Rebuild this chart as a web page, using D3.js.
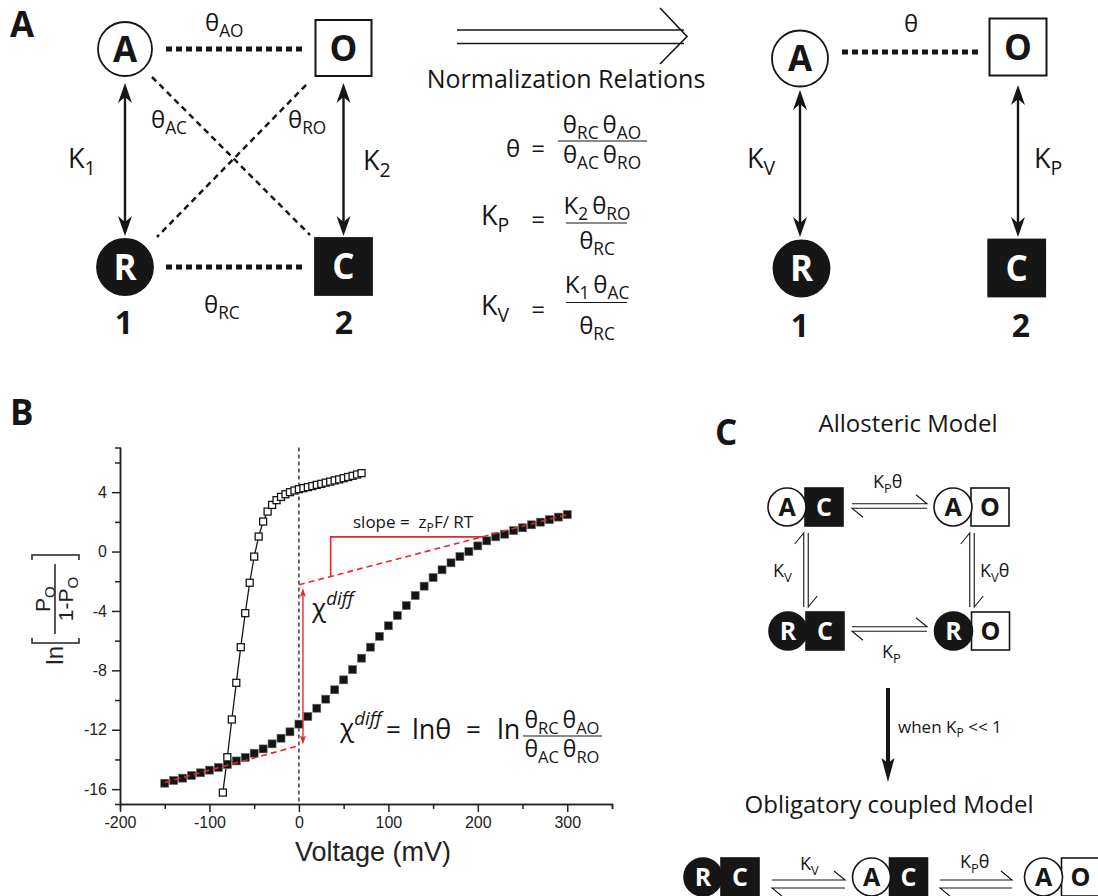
<!DOCTYPE html>
<html><head><meta charset="utf-8">
<script src="https://cdn.jsdelivr.net/npm/d3@7"></script>
<style>body{margin:0;background:#fff} svg{display:block} text{white-space:pre}</style>
</head><body>
<svg id="fig" width="1098" height="896"></svg>
<script>
// ---- data ----
const closedV = [-150,-140,-130,-120,-110,-100,-90,-80,-70,-60,-50,-40,-30,-20,-10,0,10,20,30,40,50,60,70,80,90,
  100,110,120,130,140,150,160,170,180,190,200,210,220,230,240,250,260,270,280,290,300];
const closedLnK = [-15.6,-15.42,-15.26,-15.08,-14.9,-14.72,-14.54,-14.34,-14.1,-13.87,-13.58,-13.29,-12.95,-12.57,-12.14,-11.62,
  -11.11,-10.55,-9.94,-9.31,-8.64,-7.95,-7.18,-6.44,-5.71,-5.0,-4.31,-3.64,-2.96,-2.33,-1.75,-1.23,-0.76,-0.34,0.0,0.38,
  0.72,0.99,1.17,1.41,1.6,1.8,1.98,2.15,2.32,2.49];
const openV = [-85,-80,-75,-70,-65,-60,-55,-50,-45,-40,-35,-30,-25,-20,-15,-10,-5,0,5,10,15,20,25,30,35,40,45,50,55,60,65,70];
const openLnK = [-16.23,-13.85,-11.31,-8.84,-6.44,-4.15,-2.1,-0.34,1.01,2.02,2.69,3.14,3.46,3.68,3.86,4.0,4.11,
  4.2,4.27,4.34,4.41,4.49,4.56,4.64,4.71,4.79,4.86,4.94,5.02,5.1,5.19,5.28];
const xTicks = [-200,-100,0,100,200,300];
const xMinor = [-150,-50,50,150,250,350];
const yTicks = [-16,-12,-8,-4,0,4];
const yMinor = [-14,-10,-6,-2,2,6];
// limiting slopes and annotations, in data units
const limitLow = [[-150,-15.55],[0,-13.07]];
const limitHigh = [[0,-2.24],[303,2.54]];
const slopeGuide = [[35.5,-1.66],[35.5,0.99],[206,0.99]];
const chiArrow = [[4.5,-2.45],[4.5,-13.0]];

const SANS = "'Open Sans', 'Noto Sans', sans-serif";
const ARIAL = "'Liberation Sans', Arial, sans-serif";
const INK = "#161616", RED = "#e8262b";
const TH = "\u2009θ"; // thin-spaced theta for products

const svg = d3.select("#fig").attr("font-family", SANS).attr("fill", INK);
svg.append("rect").attr("width", 1098).attr("height", 896).attr("fill", "#fff");

// text with sub/superscripts: parts = [[str, kind]]
function rich(g, x, y, parts, size, anchor) {
  const t = g.append("text").attr("x", x).attr("y", y).attr("font-size", size)
    .attr("text-anchor", anchor || "start");
  let shift = 0;
  parts.forEach(p => {
    const k = p[1];
    const target = k === "sub" ? size * 0.25 : k ? -size * 0.45 : 0;
    const ts = t.append("tspan").text(p[0]).attr("dy", target - shift);
    if (k) ts.attr("font-size", size * 0.72);
    if (k === "supi") ts.attr("font-style", "italic");
    shift = target;
  });
  return t;
}

function node(g, cx, cy, shape, r, filled, label, fs, sw) {
  const el = shape === "c"
    ? g.append("circle").attr("cx", cx).attr("cy", cy).attr("r", r)
    : g.append("rect").attr("x", cx - r).attr("y", cy - r).attr("width", 2 * r).attr("height", 2 * r);
  el.attr("fill", filled ? INK : "#fff").attr("stroke", INK).attr("stroke-width", sw || 1.8);
  g.append("text").attr("x", cx).attr("y", cy + fs * 0.36).attr("text-anchor", "middle")
    .attr("font-weight", 700).attr("font-size", fs).attr("fill", filled ? "#fff" : INK).text(label);
}

function head(g, tx, ty, dx, dy, len, hw, notch, color) {
  const px = -dy, py = dx, bx = tx - dx * len, by = ty - dy * len;
  const nx = tx - dx * notch, ny = ty - dy * notch;
  g.append("path").attr("fill", color || INK)
    .attr("d", `M${tx},${ty}L${bx + px * hw},${by + py * hw}L${nx},${ny}L${bx - px * hw},${by - py * hw}Z`);
}

function dblArrow(g, x, y1, y2) {
  g.append("line").attr("x1", x).attr("x2", x).attr("y1", y1 + 10).attr("y2", y2 - 10)
    .attr("stroke", INK).attr("stroke-width", 2.4);
  head(g, x, y1, 0, -1, 20, 7, 14);
  head(g, x, y2, 0, 1, 20, 7, 14);
}

function bond(g, x1, y1, x2, y2, w, dash) {
  g.append("line").attr("x1", x1).attr("y1", y1).attr("x2", x2).attr("y2", y2)
    .attr("stroke", INK).attr("stroke-width", w).attr("stroke-dasharray", dash);
}

function harpoonH(g, x1, x2, yc, gap) {
  const yt = yc - gap / 2, yb = yc + gap / 2;
  g.append("path").attr("d", `M${x1},${yt}H${x2}l-11,-9`).attr("fill", "none").attr("stroke", INK).attr("stroke-width", 1.1);
  g.append("path").attr("d", `M${x2},${yb}H${x1}l11,9`).attr("fill", "none").attr("stroke", INK).attr("stroke-width", 1.1);
}

function harpoonV(g, xc, y1, y2, gap) {
  const xl = xc - gap / 2, xr = xc + gap / 2;
  g.append("path").attr("d", `M${xl},${y2}V${y1}l-9,11`).attr("fill", "none").attr("stroke", INK).attr("stroke-width", 1.1);
  g.append("path").attr("d", `M${xr},${y1}V${y2}l9,-11`).attr("fill", "none").attr("stroke", INK).attr("stroke-width", 1.1);
}

function pair(g, cx, cy, cFill, cLab, sFill, sLab) {
  const r = 19;
  g.append("rect").attr("x", cx + r - 1).attr("y", cy - r).attr("width", 2 * r).attr("height", 2 * r)
    .attr("fill", sFill ? INK : "#fff").attr("stroke", INK).attr("stroke-width", 1.6);
  g.append("circle").attr("cx", cx).attr("cy", cy).attr("r", r)
    .attr("fill", cFill ? INK : "#fff").attr("stroke", INK).attr("stroke-width", 1.6);
  g.append("text").attr("x", cx).attr("y", cy + 9).attr("text-anchor", "middle").attr("font-weight", 700)
    .attr("font-size", 25).attr("fill", cFill ? "#fff" : INK).text(cLab);
  g.append("text").attr("x", cx + 2 * r - 1).attr("y", cy + 9).attr("text-anchor", "middle").attr("font-weight", 700)
    .attr("font-size", 25).attr("fill", sFill ? "#fff" : INK).text(sLab);
}

function panelLabel(x, y, t) {
  svg.append("text").attr("x", x).attr("y", y).attr("font-size", 35).attr("font-weight", 700).text(t);
}

function plain(g, x, y, t, size, anchor) {
  return g.append("text").attr("x", x).attr("y", y).attr("font-size", size)
    .attr("text-anchor", anchor || "start").text(t);
}

// ================= Panel A =================
panelLabel(10, 37, "A");
const pa = svg.append("g");
bond(pa, 166, 49, 303, 49, 5, "6,4");
bond(pa, 166, 267, 303, 267, 5, "6,4");
bond(pa, 152, 77, 310, 235, 2.5, "6,4.5");
bond(pa, 306, 85, 157, 237, 2.5, "6,4.5");
dblArrow(pa, 125, 83, 236);
dblArrow(pa, 343.5, 83, 236);
node(pa, 125, 49, "c", 27, false, "A", 35);
node(pa, 343.5, 48, "s", 28, false, "O", 35, 2);
node(pa, 125, 267, "c", 28, true, "R", 35);
node(pa, 343.5, 266.5, "s", 28.5, true, "C", 35);
rich(pa, 205, 31, [["θ"], ["AO", "sub"]], 24);
rich(pa, 151, 128, [["θ"], ["AC", "sub"]], 24);
rich(pa, 288, 128, [["θ"], ["RO", "sub"]], 24);
rich(pa, 68, 168, [["K"], ["1", "sub"]], 27);
rich(pa, 363, 170, [["K"], ["2", "sub"]], 27);
rich(pa, 204, 313, [["θ"], ["RC", "sub"]], 24);
plain(pa, 124, 334, "1", 32, "middle").attr("font-weight", 700);
plain(pa, 344, 334, "2", 32, "middle").attr("font-weight", 700);

// normalization arrow and relations
const pm = svg.append("g");
pm.append("path").attr("d", "M457,30H684M457,43.5H684M660,8L687,36.5L660,64")
  .attr("fill", "none").attr("stroke", INK).attr("stroke-width", 1.6);
plain(pm, 566, 88, "Normalization Relations", 25, "middle");
plain(pm, 506, 157, "θ", 24);
[157, 228, 318].forEach(v => plain(pm, 538, v, "=", 24, "middle"));
pm.append("path").attr("d", "M558,141H647M566,223H627M566,302.5H627").attr("stroke", INK).attr("stroke-width", 1.2);
rich(pm, 602, 133, [["θ"], ["RC", "sub"], [TH], ["AO", "sub"]], 24, "middle");
rich(pm, 602, 163, [["θ"], ["AC", "sub"], [TH], ["RO", "sub"]], 24, "middle");
rich(pm, 481, 225, [["K"], ["P", "sub"]], 27);
rich(pm, 597, 214, [["K"], ["2", "sub"], [TH], ["RO", "sub"]], 24, "middle");
rich(pm, 597, 249, [["θ"], ["RC", "sub"]], 24, "middle");
rich(pm, 481, 315, [["K"], ["V", "sub"]], 27);
rich(pm, 597, 293, [["K"], ["1", "sub"], [TH], ["AC", "sub"]], 24, "middle");
rich(pm, 597, 334, [["θ"], ["RC", "sub"]], 24, "middle");

// normalized scheme
const pr = svg.append("g");
bond(pr, 842, 52, 978, 52, 5, "6,4");
dblArrow(pr, 800, 90, 237);
dblArrow(pr, 1018, 85, 237);
node(pr, 800, 58.5, "c", 28, false, "A", 35);
node(pr, 1018, 47, "s", 28.5, false, "O", 35, 2);
node(pr, 801.5, 268.5, "c", 28, true, "R", 35);
node(pr, 1016.7, 268, "s", 28.5, true, "C", 35);
plain(pr, 904, 32, "θ", 24);
rich(pr, 747, 168, [["K"], ["V", "sub"]], 27);
rich(pr, 1034, 168, [["K"], ["P", "sub"]], 27);
plain(pr, 800, 337, "1", 32, "middle").attr("font-weight", 700);
plain(pr, 1021, 337, "2", 32, "middle").attr("font-weight", 700);

// ================= Panel B =================
panelLabel(10, 425, "B");
const x = d3.scaleLinear().domain([-200, 350]).range([120, 612]);
const y = d3.scaleLinear().domain([-17, 7]).range([804, 447.6]);
const pb = svg.append("g");

pb.append("line").attr("x1", x(0)).attr("x2", x(0)).attr("y1", y(7)).attr("y2", y(-17))
  .attr("stroke", "#222").attr("stroke-width", 1.3).attr("stroke-dasharray", "4,3");

function styleAxis(g) {
  g.attr("font-family", ARIAL).attr("font-size", 16);
  g.selectAll("path,line").attr("stroke", "#222").attr("stroke-width", 1.5);
  g.selectAll("text").attr("fill", "#222");
}
pb.append("g").attr("transform", `translate(0,${y(-17)})`)
  .call(d3.axisBottom(x).tickValues(xMinor).tickSize(5).tickFormat("")).call(styleAxis);
pb.append("g").attr("transform", `translate(0,${y(-17)})`)
  .call(d3.axisBottom(x).tickValues(xTicks).tickSize(8).tickSizeOuter(0).tickPadding(5).tickFormat(d => String(d)))
  .call(styleAxis);
pb.append("g").attr("transform", `translate(${x(-200)},0)`)
  .call(d3.axisLeft(y).tickValues(yMinor).tickSize(5).tickFormat("")).call(styleAxis);
pb.append("g").attr("transform", `translate(${x(-200)},0)`)
  .call(d3.axisLeft(y).tickValues(yTicks).tickSize(8).tickSizeOuter(0).tickPadding(5).tickFormat(d => String(d)))
  .call(styleAxis);

plain(pb, 373, 861, "Voltage (mV)", 27, "middle").attr("font-family", ARIAL).attr("fill", "#222");

// y label ln[Po/(1-Po)]
const yl = pb.append("g").attr("transform", "translate(55,612) rotate(-90)")
  .attr("font-family", ARIAL).attr("fill", "#222");
plain(yl, -34, 8, "ln", 24, "end");
yl.append("path").attr("d", "M-26,-23H-31V24H-26M52,-23H57V24H52M-22,0H48")
  .attr("fill", "none").attr("stroke", "#222").attr("stroke-width", 1.5);
rich(yl, 13, -5, [["P"], ["O", "sub"]], 21, "middle");
rich(yl, 13, 18, [["1-P"], ["O", "sub"]], 21, "middle");

// open squares with fitted line
const openPts = openV.map((v, i) => [v, openLnK[i]]);
const closedPts = closedV.map((v, i) => [v, closedLnK[i]]);
const line = d3.line().x(d => x(d[0])).y(d => y(d[1]));
pb.append("path").attr("d", line(openPts)).attr("fill", "none").attr("stroke", INK).attr("stroke-width", 1.3);
pb.selectAll(".open").data(openPts).join("rect").attr("class", "open")
  .attr("x", d => x(d[0]) - 3.5).attr("y", d => y(d[1]) - 3.5).attr("width", 7).attr("height", 7)
  .attr("fill", "#fff").attr("stroke", INK).attr("stroke-width", 1.3);
pb.selectAll(".closed").data(closedPts).join("rect").attr("class", "closed")
  .attr("x", d => x(d[0]) - 4).attr("y", d => y(d[1]) - 4).attr("width", 8).attr("height", 8)
  .attr("fill", "#141414").attr("stroke", "#666").attr("stroke-width", 0.6);

// limiting slopes
[limitLow, limitHigh].forEach(seg => pb.append("path").attr("d", line(seg)).attr("fill", "none")
  .attr("stroke", RED).attr("stroke-width", 1.6).attr("stroke-dasharray", "6,4"));
pb.append("path").attr("d", line(slopeGuide)).attr("fill", "none").attr("stroke", RED).attr("stroke-width", 1.6);
const ax = x(chiArrow[0][0]), ay1 = y(chiArrow[0][1]), ay2 = y(chiArrow[1][1]);
pb.append("line").attr("x1", ax).attr("x2", ax).attr("y1", ay1 + 5).attr("y2", ay2 - 5).attr("stroke", RED).attr("stroke-width", 1.4);
head(pb, ax, ay1, 0, -1, 9, 3, 7, RED);
head(pb, ax, ay2, 0, 1, 9, 3, 7, RED);

rich(pb, 353, 528, [["slope =  z"], ["P", "sub"], ["F/ RT"]], 17);
rich(pb, 312, 617, [["χ"], ["diff", "supi"]], 26);
rich(pb, 340, 737, [["χ"], ["diff", "supi"]], 26);
plain(pb, 386, 739, "=", 26);
plain(pb, 412, 739, "lnθ", 27);
plain(pb, 466, 739, "=", 26);
plain(pb, 497, 739, "ln", 27);
pb.append("line").attr("x1", 523).attr("x2", 602).attr("y1", 736).attr("y2", 736).attr("stroke", INK).attr("stroke-width", 1.2);
rich(pb, 562, 728, [["θ"], ["RC", "sub"], [TH], ["AO", "sub"]], 23, "middle");
rich(pb, 562, 757, [["θ"], ["AC", "sub"], [TH], ["RO", "sub"]], 23, "middle");

// ================= Panel C =================
panelLabel(715, 445, "C");
const pc = svg.append("g");
plain(pc, 908, 432, "Allosteric Model", 24, "middle");
pair(pc, 787, 507, false, "A", true, "C");
pair(pc, 953, 507, false, "A", false, "O");
pair(pc, 788, 631, true, "R", true, "C");
pair(pc, 953.5, 631, true, "R", false, "O");
harpoonH(pc, 852, 927, 506, 4.5);
harpoonH(pc, 852, 927, 629, 4.5);
harpoonV(pc, 806, 533, 607, 4.5);
harpoonV(pc, 972, 533, 607, 4.5);
rich(pc, 873, 488, [["K"], ["P", "sub"], ["θ"]], 18);
rich(pc, 773, 577, [["K"], ["V", "sub"]], 18);
rich(pc, 980, 577, [["K"], ["V", "sub"], ["θ"]], 18);
rich(pc, 882, 658, [["K"], ["P", "sub"]], 18);

pc.append("line").attr("x1", 888).attr("x2", 888).attr("y1", 688).attr("y2", 765).attr("stroke", INK).attr("stroke-width", 4);
head(pc, 888, 782, 0, 1, 24, 6.5, 19);
rich(pc, 898, 733, [["when K"], ["P", "sub"], [" << 1"]], 17);
plain(pc, 889, 813, "Obligatory coupled Model", 24, "middle");

pair(pc, 703, 877, true, "R", true, "C");
pair(pc, 871.5, 877, false, "A", true, "C");
pair(pc, 1043.5, 877, false, "A", false, "O");
harpoonH(pc, 772, 845, 884, 8);
harpoonH(pc, 940, 1012, 884, 8);
rich(pc, 800, 870, [["K"], ["V", "sub"]], 18);
rich(pc, 960, 868, [["K"], ["P", "sub"], ["θ"]], 18);
</script>
</body></html>
